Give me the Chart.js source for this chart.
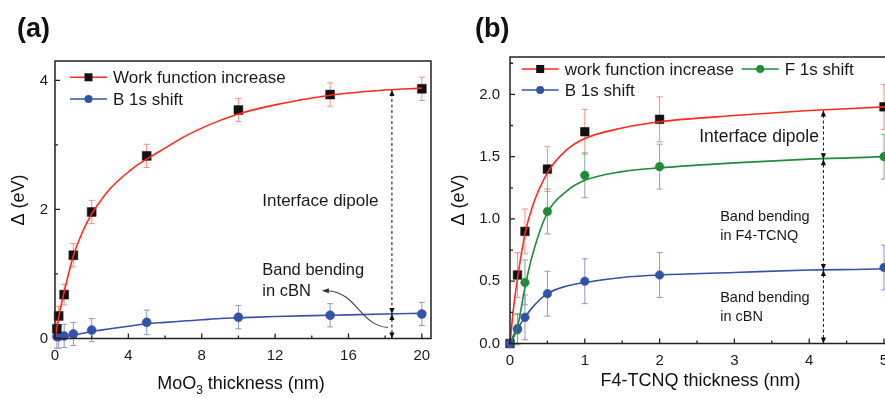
<!DOCTYPE html>
<html>
<head>
<meta charset="utf-8">
<script src="https://cdn.jsdelivr.net/npm/chart.js@4.4.0/dist/chart.umd.min.js"></script>
<style>
html, body { margin: 0; padding: 0; background: #fff; overflow: hidden; width: 885px; height: 398px; }
#chartA { position: absolute; left: 0; top: 0; }
#chartB { position: absolute; left: 440px; top: 0; }
</style>
</head>
<body>
<canvas id="chartA" width="440" height="398"></canvas>
<canvas id="chartB" width="470" height="398"></canvas>
<script>
// --- DATA: panel (a), MoO3 on cBN ---
const thickA = [0.1, 0.2, 0.5, 1, 2, 5, 10, 15, 20];
const wfA = [0.15, 0.35, 0.68, 1.29, 1.96, 2.83, 3.54, 3.78, 3.87];
const wfErrA = [0.15, 0.15, 0.16, 0.18, 0.18, 0.18, 0.18, 0.18, 0.18];
const b1sA = [0.03, 0.03, 0.04, 0.07, 0.13, 0.25, 0.33, 0.36, 0.38];
const b1sErrA = [0.18, 0.18, 0.18, 0.18, 0.18, 0.19, 0.18, 0.18, 0.18];
// fitted curves
const fitXA = [0, 0.25, 0.5, 1, 1.5, 2, 2.5, 3, 3.5, 4, 4.5, 5, 6, 7, 8, 9, 10, 12, 15, 18, 20];
const fitWfA = [0, 0.4, 0.72, 1.28, 1.65, 1.93, 2.14, 2.32, 2.46, 2.58, 2.69, 2.78, 2.95, 3.12, 3.26, 3.38, 3.48, 3.62, 3.77, 3.85, 3.88];
const fitB1sA = [0.02, 0.02, 0.03, 0.05, 0.08, 0.11, 0.13, 0.15, 0.17, 0.19, 0.21, 0.23, 0.25, 0.27, 0.29, 0.31, 0.32, 0.34, 0.36, 0.38, 0.39];
const xTicksA = [0, 4, 8, 12, 16, 20];
const xMinorA = [2, 6, 10, 14, 18];
const yTicksA = [0, 2, 4];
const yMinorA = [1, 3];

// --- DATA: panel (b), F4-TCNQ on cBN ---
const thickB = [0, 0.1, 0.2, 0.5, 1, 2, 5];
const wfB = [0, 0.55, 0.90, 1.40, 1.70, 1.80, 1.90];
const wfErrB = [0, 0.18, 0.18, 0.18, 0.18, 0.18, 0.18];
const f1sB = [0, 0.11, 0.49, 1.06, 1.35, 1.42, 1.50];
const f1sErrB = [0, 0.12, 0.18, 0.18, 0.18, 0.18, 0.18];
const b1sB = [0, 0.12, 0.21, 0.40, 0.50, 0.55, 0.61];
const b1sErrB = [0, 0.12, 0.18, 0.18, 0.18, 0.18, 0.18];
const fitXB = [0, 0.05, 0.1, 0.2, 0.3, 0.5, 0.75, 1, 1.5, 2, 3, 4, 5, 5.25];
const fitWfB = [0, 0.3, 0.52, 0.88, 1.1, 1.37, 1.55, 1.645, 1.73, 1.78, 1.83, 1.87, 1.90, 1.91];
const fitF1sB = [0, 0.05, 0.13, 0.45, 0.71, 1.05, 1.22, 1.31, 1.38, 1.41, 1.45, 1.48, 1.50, 1.51];
const fitB1sB = [0, 0.07, 0.12, 0.21, 0.29, 0.40, 0.46, 0.49, 0.53, 0.55, 0.57, 0.59, 0.60, 0.61];
const xTicksB = [0, 1, 2, 3, 4, 5];
const xMinorB = [0.5, 1.5, 2.5, 3.5, 4.5];
const yTicksB = [0, 0.5, 1.0, 1.5, 2.0];
const yMinorB = [0.25, 0.75, 1.25, 1.75, 2.25];

const FONT = "'Liberation Sans', Arial, sans-serif";
const RED = '#ff2a1c', GREEN = '#1f8b3b', BLUE = '#3453a8';
const RED_ERR = '#f4917f', GREEN_ERR = '#7fae86', BLUE_ERR = '#8e97cf';

const pts = (xs, ys) => xs.map((x, i) => ({ x, y: ys[i] }));

function fitLine(xs, ys, color) {
    return { data: pts(xs, ys), showLine: true, borderColor: color, borderWidth: 1.6,
             pointRadius: 0, cubicInterpolationMode: 'monotone', fill: false };
}
function marks(xs, ys, style, color, r) {
    return { data: pts(xs, ys), showLine: false, pointStyle: style, pointRadius: r,
             pointBackgroundColor: color, pointBorderColor: color, pointBorderWidth: 0.5, clip: false };
}

function arrowHead(ctx, x, y, dir) {
    // dir -1 points up, 1 points down; tip at (x, y)
    ctx.beginPath();
    ctx.moveTo(x, y);
    ctx.lineTo(x - 2.6, y - dir * 6);
    ctx.lineTo(x + 2.6, y - dir * 6);
    ctx.closePath();
    ctx.fill();
}

// --- DECORATION PLUGIN: error bars, frame, inward ticks, legend, notes ---
const decor = {
    id: 'decor',
    beforeDatasetsDraw(chart, args, o) {
        const { ctx, scales: { x, y } } = chart;
        ctx.save();
        ctx.lineWidth = 1;
        o.errors.forEach(e => {
            ctx.strokeStyle = e.color;
            e.x.forEach((xv, i) => {
                if (!e.err[i]) return;
                const px = x.getPixelForValue(xv);
                const y1 = y.getPixelForValue(e.y[i] - e.err[i]);
                const y2 = y.getPixelForValue(e.y[i] + e.err[i]);
                ctx.beginPath();
                ctx.moveTo(px, y1); ctx.lineTo(px, y2);
                ctx.moveTo(px - 3, y1); ctx.lineTo(px + 3, y1);
                ctx.moveTo(px - 3, y2); ctx.lineTo(px + 3, y2);
                ctx.stroke();
            });
        });
        ctx.restore();
    },
    afterDraw(chart, args, o) {
        const { ctx, chartArea: ca, scales: { x, y } } = chart;
        ctx.save();

        // frame + inward ticks
        ctx.strokeStyle = '#222';
        ctx.lineWidth = 1.5;
        ctx.strokeRect(ca.left, ca.top, ca.right - ca.left, ca.bottom - ca.top);
        ctx.lineWidth = 1.3;
        ctx.beginPath();
        o.xMajor.forEach(v => { const p = x.getPixelForValue(v); ctx.moveTo(p, ca.bottom); ctx.lineTo(p, ca.bottom - 5); });
        o.xMinor.forEach(v => { const p = x.getPixelForValue(v); ctx.moveTo(p, ca.bottom); ctx.lineTo(p, ca.bottom - 3); });
        o.yMajor.forEach(v => { const p = y.getPixelForValue(v); ctx.moveTo(ca.left, p); ctx.lineTo(ca.left + 5, p); });
        o.yMinor.forEach(v => { const p = y.getPixelForValue(v); ctx.moveTo(ca.left, p); ctx.lineTo(ca.left + 3, p); });
        ctx.stroke();

        // dimension line with arrows
        const dx = x.getPixelForValue(o.dim.x);
        const lv = o.dim.levels.map(v => y.getPixelForValue(v));
        ctx.strokeStyle = '#111';
        ctx.fillStyle = '#111';
        ctx.lineWidth = 1;
        ctx.setLineDash([3, 2.5]);
        ctx.beginPath();
        ctx.moveTo(dx, lv[0]);
        ctx.lineTo(dx, lv[lv.length - 1]);
        ctx.stroke();
        ctx.setLineDash([]);
        lv.forEach((p, i) => {
            if (i > 0) arrowHead(ctx, dx, p, -1);
            if (i < lv.length - 1) arrowHead(ctx, dx, p, 1);
        });

        // curved pointer (panel a only)
        if (o.curve) {
            const c = o.curve.map(([a, b]) => [x.getPixelForValue(a), y.getPixelForValue(b)]);
            ctx.strokeStyle = '#444';
            ctx.fillStyle = '#333';
            ctx.lineWidth = 1.1;
            ctx.beginPath();
            ctx.moveTo(c[0][0], c[0][1]);
            ctx.bezierCurveTo(c[1][0], c[1][1], c[2][0], c[2][1], c[3][0] + 5, c[3][1]);
            ctx.stroke();
            ctx.beginPath();
            ctx.moveTo(c[3][0], c[3][1]);
            ctx.lineTo(c[3][0] + 7, c[3][1] - 2.6);
            ctx.lineTo(c[3][0] + 7, c[3][1] + 2.6);
            ctx.closePath();
            ctx.fill();
        }

        // notes
        ctx.fillStyle = '#1a1a1a';
        ctx.textBaseline = 'middle';
        o.notes.forEach(n => {
            ctx.font = n.size + 'px ' + FONT;
            ctx.textAlign = n.align || 'left';
            ctx.fillText(n.text, x.getPixelForValue(n.x), y.getPixelForValue(n.y));
        });

        // legend
        o.legend.forEach(l => {
            const lx = ca.left + l.dx, ly = ca.top + l.dy;
            ctx.strokeStyle = l.color;
            ctx.lineWidth = 1.5;
            ctx.beginPath();
            ctx.moveTo(lx, ly); ctx.lineTo(lx + 37, ly);
            ctx.stroke();
            ctx.fillStyle = l.marker === 'rect' ? '#111' : l.color;
            ctx.beginPath();
            if (l.marker === 'rect') ctx.rect(lx + 14.5, ly - 4, 8, 8);
            else ctx.arc(lx + 18.5, ly, 4, 0, Math.PI * 2);
            ctx.fill();
            ctx.fillStyle = '#1a1a1a';
            ctx.font = '17px ' + FONT;
            ctx.textAlign = 'left';
            ctx.fillText(l.text, lx + 43, ly + 1);
        });

        // panel tag
        ctx.font = 'bold 27px ' + FONT;
        ctx.textAlign = 'left';
        ctx.fillStyle = '#111';
        ctx.fillText(o.tag.text, o.tag.x, o.tag.y);

        // axis titles
        ctx.font = '18px ' + FONT;
        ctx.save();
        ctx.translate(o.yTitle.x, o.yTitle.y);
        ctx.rotate(-Math.PI / 2);
        ctx.textAlign = 'center';
        ctx.fillText('\u0394 (eV)', 0, 0);
        ctx.restore();

        const parts = o.xTitle.parts;
        const widths = parts.map(p => { ctx.font = (p.sub ? 12 : 18) + 'px ' + FONT; return ctx.measureText(p.t).width; });
        let cx = o.xTitle.x - widths.reduce((a, b) => a + b, 0) / 2;
        ctx.textAlign = 'left';
        parts.forEach((p, i) => {
            ctx.font = (p.sub ? 12 : 18) + 'px ' + FONT;
            ctx.fillText(p.t, cx, o.xTitle.y + (p.sub ? 7 : 0));
            cx += widths[i];
        });

        ctx.restore();
    }
};

function makeScales(xmin, xmax, ymin, ymax, xt, yt, yFmt, yWidth, xHeight, yPad) {
    const tickFont = { family: FONT, size: 15 };
    return {
        x: {
            type: 'linear', min: xmin, max: xmax,
            afterBuildTicks: s => { s.ticks = xt.map(v => ({ value: v })); },
            afterFit: s => { s.height = xHeight; },
            ticks: { font: tickFont, color: '#1a1a1a', padding: 8, maxRotation: 0, autoSkip: false },
            grid: { display: false, drawTicks: false },
            border: { display: false }
        },
        y: {
            type: 'linear', min: ymin, max: ymax,
            afterBuildTicks: s => { s.ticks = yt.map(v => ({ value: v })); },
            afterFit: s => { s.width = yWidth; },
            ticks: { font: tickFont, color: '#1a1a1a', padding: yPad, autoSkip: false, callback: yFmt },
            grid: { display: false, drawTicks: false },
            border: { display: false }
        }
    };
}

// --- PANEL (a) ---
new Chart(document.getElementById('chartA'), {
    type: 'scatter',
    data: {
        datasets: [
            fitLine(fitXA, fitWfA, RED),
            fitLine(fitXA, fitB1sA, BLUE),
            marks(thickA, wfA, 'rect', '#111', 6.3),
            marks(thickA, b1sA, 'circle', BLUE, 4.5)
        ]
    },
    options: {
        responsive: false,
        animation: false,
        layout: { padding: { top: 61, right: 9, left: 0, bottom: 0 } },
        plugins: {
            legend: { display: false },
            tooltip: { enabled: false },
            decor: {
                errors: [
                    { x: thickA, y: wfA, err: wfErrA, color: RED_ERR },
                    { x: thickA, y: b1sA, err: b1sErrA, color: BLUE_ERR }
                ],
                xMajor: xTicksA, xMinor: xMinorA, yMajor: yTicksA, yMinor: yMinorA,
                dim: { x: 18.37, levels: [0, 0.38, 3.85] },
                curve: [[18.15, 0.17], [16.6, 0.2], [16.5, 0.72], [14.55, 0.74]],
                notes: [
                    { text: 'Interface dipole', x: 11.3, y: 2.13, size: 17 },
                    { text: 'Band bending', x: 11.3, y: 1.05, size: 16.5 },
                    { text: 'in cBN', x: 11.3, y: 0.73, size: 16.5 }
                ],
                legend: [
                    { text: 'Work function increase', color: RED, marker: 'rect', dx: 15, dy: 16.3 },
                    { text: 'B 1s shift', color: BLUE, marker: 'circle', dx: 15, dy: 38 }
                ],
                tag: { text: '(a)', x: 17, y: 30 },
                yTitle: { x: 19, y: 200 },
                xTitle: { x: 241, y: 384, parts: [{ t: 'MoO' }, { t: '3', sub: true }, { t: ' thickness (nm)' }] }
            }
        },
        scales: makeScales(0, 20.5, 0, 4.3, xTicksA, yTicksA, v => v, 55, 59.5, 7)
    },
    plugins: [decor]
});

// --- PANEL (b) ---
new Chart(document.getElementById('chartB'), {
    type: 'scatter',
    data: {
        datasets: [
            fitLine(fitXB, fitWfB, RED),
            fitLine(fitXB, fitF1sB, GREEN),
            fitLine(fitXB, fitB1sB, BLUE),
            marks(thickB, b1sB, 'circle', BLUE, 4.3),
            marks(thickB, f1sB, 'circle', GREEN, 4.3),
            marks(thickB, wfB, 'rect', '#111', 6.1)
        ]
    },
    options: {
        responsive: false,
        animation: false,
        layout: { padding: { top: 57, right: 7.3, left: 0, bottom: 0 } },
        plugins: {
            legend: { display: false },
            tooltip: { enabled: false },
            decor: {
                errors: [
                    { x: thickB, y: wfB, err: wfErrB, color: RED_ERR },
                    { x: thickB, y: f1sB, err: f1sErrB, color: GREEN_ERR },
                    { x: thickB, y: b1sB, err: b1sErrB, color: BLUE_ERR }
                ],
                xMajor: xTicksB, xMinor: xMinorB, yMajor: yTicksB, yMinor: yMinorB,
                dim: { x: 4.19, levels: [0, 0.59, 1.48, 1.87] },
                curve: null,
                notes: [
                    { text: 'Interface dipole', x: 4.13, y: 1.66, size: 17.5, align: 'right' },
                    { text: 'Band bending', x: 2.81, y: 1.015, size: 14.5 },
                    { text: 'in F4-TCNQ', x: 2.81, y: 0.862, size: 14.5 },
                    { text: 'Band bending', x: 2.81, y: 0.366, size: 14.5 },
                    { text: 'in cBN', x: 2.81, y: 0.213, size: 14.5 }
                ],
                legend: [
                    { text: 'work function increase', color: RED, marker: 'rect', dx: 11.7, dy: 12 },
                    { text: 'F 1s shift', color: GREEN, marker: 'circle', dx: 231.7, dy: 12 },
                    { text: 'B 1s shift', color: BLUE, marker: 'circle', dx: 11.7, dy: 33 }
                ],
                tag: { text: '(b)', x: 35, y: 30 },
                yTitle: { x: 19, y: 200 },
                xTitle: { x: 260.5, y: 381, parts: [{ t: 'F4-TCNQ thickness (nm)' }] }
            }
        },
        scales: makeScales(0, 5.25, 0, 2.3, xTicksB, yTicksB, v => v.toFixed(1), 70, 54.5, 10)
    },
    plugins: [decor]
});
</script>
</body>
</html>
